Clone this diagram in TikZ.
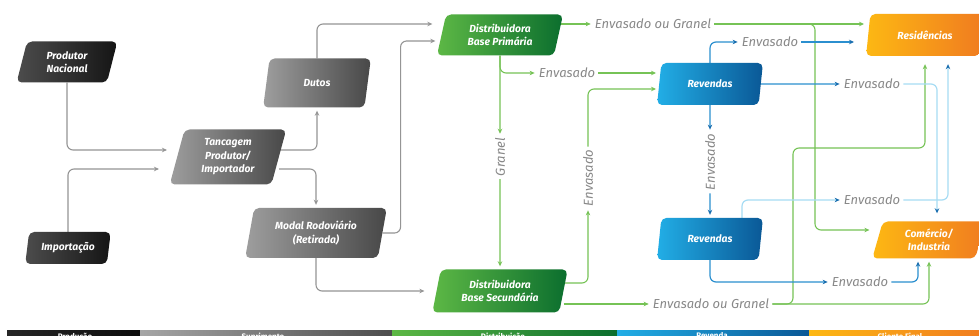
\documentclass[tikz,border=0pt]{standalone}
\usepackage{fontspec}
\setmainfont{Fira Sans}
\usetikzlibrary{shapes.geometric,arrows.meta}
\definecolor{lgray}{HTML}{959595}
\definecolor{labgray}{HTML}{888888}
\definecolor{grL}{HTML}{76C356}
\definecolor{grA}{HTML}{5DB845}
\definecolor{grB}{HTML}{0B6E2E}
\definecolor{blA}{HTML}{22AEE6}
\definecolor{blB}{HTML}{0A5896}
\definecolor{orA}{HTML}{FDB813}
\definecolor{orB}{HTML}{F07B20}
\definecolor{bmid}{HTML}{2B8FCF}
\definecolor{blight}{HTML}{A6DCF4}
\definecolor{bdark}{HTML}{1A6FB0}
\pgfdeclarelayer{bg}
\pgfsetlayers{bg,main}
\begin{document}
\begin{tikzpicture}[x=1pt,y=-1pt,
  box/.style={trapezium, trapezium left angle=76, trapezium right angle=104,
    trapezium stretches=true, rounded corners=5pt, inner sep=0pt, align=center,
    text=white, font=\fontsize{10.3}{13.5}\selectfont\bfseries\itshape},
  blackbox/.style={box, left color=black!70, right color=black!92},
  graybox/.style={box, left color=black!38, right color=black!72},
  greenbox/.style={box, left color=grA, right color=grB},
  bluebox/.style={box, left color=blA, right color=blB},
  orangebox/.style={box, left color=orA, right color=orB},
  lab/.style={font=\fontsize{13}{13}\selectfont\itshape, text=labgray, inner sep=3pt},
  arr/.style={-{Stealth[length=5pt,width=4.5pt]}},
  gline/.style={draw=lgray, line width=1.1pt, rounded corners=6pt, arr},
  grline/.style={draw=grL, line width=1.1pt, rounded corners=6pt, arr},
  bline/.style={draw=bmid, line width=1.2pt, rounded corners=6pt, -{Stealth[length=5pt,width=4.5pt,color=bdark]}},
  blline/.style={draw=blight, line width=1.2pt, rounded corners=6pt, -{Stealth[length=5pt,width=4.5pt,color=bdark]}},
  bandtext/.style={anchor=north, inner sep=0pt, text=white, font=\fontsize{8}{8}\selectfont\bfseries}
]
\useasboundingbox (0,0) rectangle (979,336);

% nodes
\node[blackbox, minimum width=101pt, minimum height=41pt] (prod) at (67,62) {Produtor\\Nacional};
\node[blackbox, minimum width=86pt, minimum height=32pt] (imp) at (68,248) {Importação};
\node[graybox, minimum width=117pt, minimum height=55pt] (tanc) at (228,157) {Tancagem\\Produtor/\\Importador};
\node[graybox, minimum width=108pt, minimum height=49pt] (dutos) at (317,83) {Dutos};
\node[graybox, minimum width=143pt, minimum height=50pt] (modal) at (316,233) {Modal Rodoviário\\(Retirada)};
\node[greenbox, minimum width=127pt, minimum height=41pt] (prim) at (500,35) {Distribuidora\\Base Primária};
\node[greenbox, minimum width=136pt, minimum height=43pt] (sec) at (500,291) {Distribuidora\\Base Secundária};
\node[bluebox, minimum width=106pt, minimum height=42pt] (rev1) at (710,84) {Revendas};
\node[bluebox, minimum width=106pt, minimum height=42pt] (rev2) at (710,239) {Revendas};
\node[orangebox, minimum width=118pt, minimum height=42pt] (res) at (925,35) {Residências};
\node[orangebox, minimum width=114pt, minimum height=37pt] (com) at (929,240) {Comércio/\\Industria};

% labels
\node[lab] (lEG1) at (653,24) {Envasado ou Granel};
\node[lab] (lE1) at (567,73) {Envasado};
\node[lab, rotate=90] (lGr) at (500,157) {Granel};
\node[lab, rotate=90] (lE2) at (588,178) {Envasado};
\node[lab] (lEG2) at (711,304) {Envasado ou Granel};
\node[lab] (lE3) at (770,42) {Envasado};
\node[lab] (lE4) at (872,84) {Envasado};
\node[lab, rotate=90] (lE5) at (710,162) {Envasado};
\node[lab] (lE6) at (872,200) {Envasado};
\node[lab] (lE7) at (860,282) {Envasado};

\coordinate (gb) at (815,120);
\coordinate (gv) at (793,148);

\begin{pgfonlayer}{bg}
\fill[white] (0,0) rectangle (979,336);
% gray
\draw[gline, shorten >=10pt] (prod.south) |- (tanc.west |- 0,150);
\draw[gline, shorten >=18pt] (imp.north) |- (tanc.west |- 0,169);
\draw[gline, shorten >=3pt] (tanc.east |- 0,150) -| (dutos.south);
\draw[gline, shorten >=3pt] (tanc.east |- 0,169) -| (modal.north);
\draw[gline, shorten >=9pt] (dutos.north) |- (prim.west |- 0,24);
\draw[gline, shorten >=6pt] (modal.east) -- ++(18,0) |- (prim.west |- 0,41);
\draw[gline, shorten >=12pt] (modal.south) |- (sec.west |- 0,291);
% green
\draw[grline, shorten >=1pt] (prim.east |- 0,24) -- (lEG1.west);
\draw[grline, shorten >=4pt] (lEG1.east) -- (res.west |- 0,24);
\draw[grline, shorten >=8pt] (lEG1.east) -| (gb) |- (com.west |- 0,230);
\draw[grline, shorten >=1pt] (prim.south) -- (lGr.east);
\draw[grline, shorten >=3pt] (lGr.west) -- (sec.north);
\draw[grline, shorten >=1pt] (prim.south) |- (lE1.west);
\draw[grline, shorten >=3pt] (lE1.east) -- (rev1.west |- 0,73);
\draw[grline, shorten >=1pt] (sec.east |- 0,283) -| (lE2.west);
\draw[grline, shorten >=3pt] (lE2.east) |- (rev1.west |- 0,89);
\draw[grline, shorten >=1pt] (sec.east |- 0,304) -- (lEG2.west);
\draw[grline, shorten >=3pt] (lEG2.east) -| (com.south);
\draw[grline, shorten >=8pt] (lEG2.east) -| (gv) -| (res.south);
% blue
\draw[bline, shorten >=1pt] (rev1.north) |- (lE3.west);
\draw[bline, shorten >=14pt] (lE3.east) -- (res.west |- 0,42);
\draw[bline, shorten >=1pt] (rev1.east) -- (lE4.west);
\draw[blline, shorten >=8pt] (lE4.east) -| ([xshift=8pt]com.north);
\draw[bline, shorten >=1pt] (rev1.south) -- (lE5.east);
\draw[bline, shorten >=3pt] (lE5.west) -- (rev2.north);
\draw[blline, shorten >=1pt] ([xshift=32pt]rev2.north) |- (lE6.west);
\draw[blline, shorten >=8pt] (lE6.east) -| ([xshift=23pt]res.south);
\draw[bline, shorten >=1pt] (rev2.south) |- (lE7.west);
\draw[bline, shorten >=3pt] (lE7.east) -| ([xshift=-11pt]com.south);
\end{pgfonlayer}

% bottom band
\begin{scope}
\clip (0,0) rectangle (979,336);
\shade[left color=black!85, right color=black!95] (7,330) rectangle (140,342);
\shade[left color=black!35, right color=black!70] (140,330) rectangle (392,342);
\shade[left color=grA, right color=grB] (392,330) rectangle (617,342);
\shade[left color=blA, right color=blB] (617,330) rectangle (809,342);
\shade[left color=orA, right color=orB] (809,330) rectangle (985,342);
\node[bandtext] (bt1) at (75,332.5) {Produção};
\node[bandtext] (bt2) at (263,332.5) {Suprimento};
\node[bandtext] (bt3) at (503,332.5) {Distribuição};
\node[bandtext] (bt4) at (712,332.5) {Revenda};
\node[bandtext] (bt5) at (900,332.5) {Cliente Final};
\end{scope}
\end{tikzpicture}
\end{document}
